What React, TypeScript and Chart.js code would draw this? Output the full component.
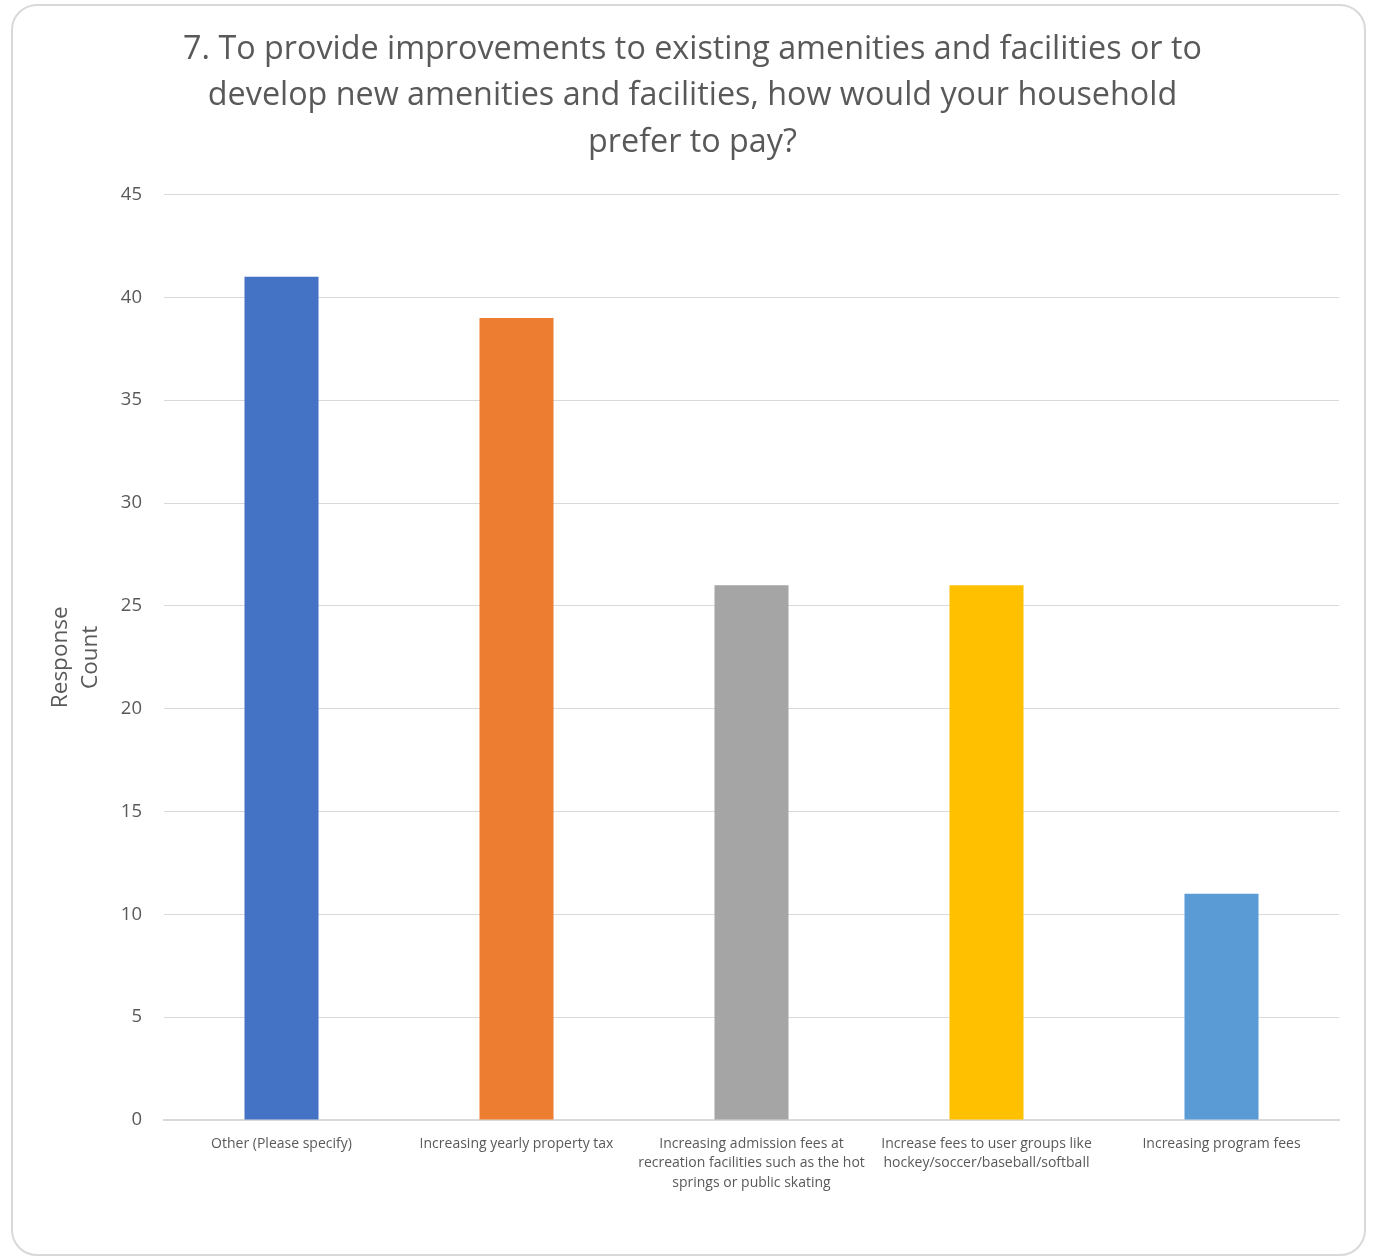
import React, { useEffect, useRef } from "react";
import { Chart, registerables } from "chart.js";

Chart.register(...registerables);

const titleLines = [
  "7. To provide improvements to existing amenities and facilities or to",
  "develop new amenities and facilities, how would your household",
  "prefer to pay?",
];
const categories: (string | string[])[] = [
  "Other (Please specify)",
  "Increasing yearly property tax",
  ["Increasing admission fees at", "recreation facilities such as the hot", "springs or public skating"],
  ["Increase fees to user groups like", "hockey/soccer/baseball/softball"],
  "Increasing program fees",
];
const responseCounts = [41, 39, 26, 26, 11];
const barColors = ["#4472C4", "#ED7D31", "#A5A5A5", "#FFC000", "#5B9BD5"];
const yAxisTitle = ["Response", "Count"];
const yMin = 0;
const yMax = 45;
const yStep = 5;

const FONT = "'Open Sans', sans-serif";
const TEXT = "#595959";
const GRID = "#d9d9d9";

export default function App() {
  const ref = useRef<HTMLCanvasElement>(null);
  useEffect(() => {
    if (!ref.current) return;
    const chart = new Chart(ref.current, {
      type: "bar",
      data: {
        labels: categories,
        datasets: [
          {
            data: responseCounts,
            backgroundColor: barColors,
            borderWidth: 0,
            categoryPercentage: 1,
            barPercentage: 0.315,
          },
        ],
      },
      options: {
        animation: false,
        responsive: false,
        maintainAspectRatio: false,
        layout: { padding: { top: 27, left: 46, right: 34, bottom: 0 } },
        plugins: {
          legend: { display: false },
          tooltip: { enabled: false },
          title: {
            display: true,
            text: titleLines,
            color: TEXT,
            font: { family: FONT, size: 32.3, weight: "normal", lineHeight: 1.43 },
            padding: { top: 0, bottom: 29 },
          },
        },
        scales: {
          x: {
            grid: { display: false },
            border: { display: true, color: GRID, width: 2 },
            ticks: {
              color: TEXT,
              font: { family: FONT, size: 14, lineHeight: 1.4 },
              maxRotation: 0,
              minRotation: 0,
              autoSkip: false,
              padding: 6,
            },
            afterFit: (s: any) => {
              s.height = 137;
            },
          },
          y: {
            min: yMin,
            max: yMax,
            grid: { color: GRID, lineWidth: 1, drawTicks: false },
            border: { display: false },
            ticks: {
              stepSize: yStep,
              color: TEXT,
              font: { family: FONT, size: 18.5 },
              padding: 22,
            },
            title: {
              display: true,
              text: yAxisTitle,
              color: TEXT,
              font: { family: FONT, size: 22.5, lineHeight: 1.33 },
              padding: 0,
            },
            afterFit: (s: any) => {
              s.width = 118;
            },
          },
        },
      },
    });
    return () => chart.destroy();
  }, []);
  return (
    <div style={{ position: "absolute", left: 0, top: 0, width: 1373, height: 1257, background: "#fff" }}>
      <div
        style={{
          position: "absolute",
          left: 11,
          top: 4,
          width: 1355,
          height: 1252,
          border: "2px solid #d9d9d9",
          borderRadius: 26,
          boxSizing: "border-box",
        }}
      />
      <canvas ref={ref} width={1373} height={1257} style={{ position: "absolute", left: 0, top: 0 }} />
    </div>
  );
}
